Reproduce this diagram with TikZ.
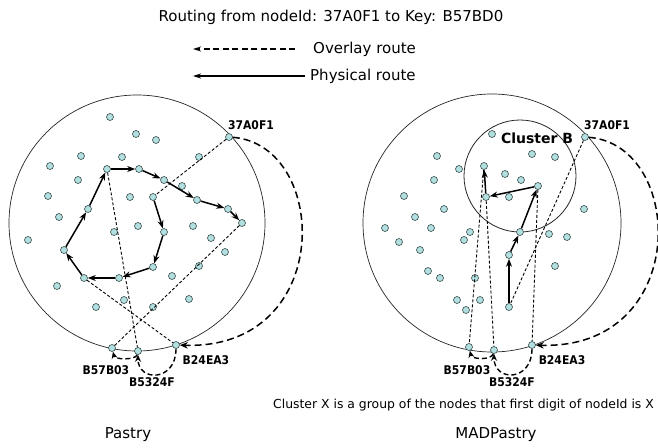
\documentclass[tikz,border=0pt]{standalone}
\usepackage{fontspec}
\setmainfont{DejaVu Sans}
\newfontfamily\lblfont[FakeStretch=0.9]{DejaVu Sans}
\usetikzlibrary{arrows.meta}
\definecolor{dotfill}{RGB}{178,224,224}
\definecolor{dotline}{RGB}{55,75,75}

\begin{document}
\begin{tikzpicture}[x=1pt,y=-1pt,
  dot/.style={circle,draw=dotline,fill=dotfill,line width=0.6pt,minimum size=7pt,inner sep=0pt},
  phys/.style={line width=1.5pt,-{Stealth[length=8pt,width=6pt]}},
  ovl/.style={line width=0.9pt,dash pattern=on 3pt off 2pt},
  hop/.style={line width=1.5pt,dash pattern=on 7pt off 4pt,-{Stealth[length=8pt,width=6.5pt]}},
  shop/.style={line width=1.4pt,dash pattern=on 5pt off 3pt,-{Stealth[length=7pt,width=6pt]}},
  ring/.style={draw=black!85,line width=0.7pt},
  lbl/.style={inner sep=0pt,font={\lblfont\bfseries\fontsize{12}{14}\selectfont}},
  txt/.style={inner sep=0pt,font={\fontsize{15}{18}\selectfont}},
  legline/.style={line width=1.3pt,-{Stealth[length=8pt,width=5pt]}}
]
\useasboundingbox (0,0) rectangle (658,447);

% ---------- title and legend ----------
\node[txt] (title) at (331,17) {Routing from nodeId: 37A0F1 to Key: B57BD0};
\node[txt,anchor=west] (ovtext) at (313,49) {Overlay route};
\node[txt,anchor=west] (phtext) at (310,76) {Physical route};
\coordinate (ovend) at (193,49);
\coordinate (phend) at (193,76);
\draw[legline,dash pattern=on 6pt off 3.5pt] ([xshift=-18pt]ovtext.west) -- (ovend);
\draw[legline] ([xshift=-5pt]phtext.west) -- (phend);

% ---------- Pastry ----------
\node[ring,circle,minimum size=256pt,inner sep=0pt] (ringL) at (137,223) {};
\foreach \p [count=\i] in {(110,117),(136,134),(156,140),(81,156),(122,157),(199,157),(50,166),
  (78,180),(48,196),(130,197),(59,217),(28,240),(114,232),(138,226),(193,226),(211,238),(225,252),
  (199,266),(172,276),(57,286),(96,307),(124,300),(153,307),(189,299),(182,186)}
  \node[dot] (pl\i) at \p {};

\node[dot] (srcL) at (229,137) {};
\node[dot] (la) at (153,197) {};
\node[dot] (lb) at (164,232) {};
\node[dot] (lc) at (153,267) {};
\node[dot] (ld) at (119,278) {};
\node[dot] (le) at (84,278) {};
\node[dot] (lf) at (64,250) {};
\node[dot] (lg) at (88,209) {};
\node[dot] (lh) at (107,169) {};
\node[dot] (li) at (139,169) {};
\node[dot] (lj) at (164,180) {};
\node[dot] (lk) at (197,200) {};
\node[dot] (ll) at (228,209) {};
\node[dot] (lm) at (242,223) {};
\node[dot] (b3L) at (112,348) {};
\node[dot] (b4L) at (138,351) {};
\node[dot] (b2L) at (176,345) {};

\draw[ovl] (srcL) -- (la);
\draw[ovl] (lm) -- (b3L);
\draw[ovl] (lh) -- (b4L);
\draw[ovl] (le) -- (b2L);

\foreach \a/\b in {la/lb,lb/lc,lc/ld,ld/le,le/lf,lf/lg,lg/lh,lh/li,li/lj,lj/lk,lk/ll,ll/lm}
  \draw[phys] (\a) -- (\b);

\draw[hop] (srcL) .. controls (330,145) and (335,350) .. (b2L);
\draw[shop] (b2L) .. controls (176,382) and (138,382) .. (b4L);
\draw[shop] (b4L) .. controls (136,360) and (115,360) .. (b3L);

\node[lbl] (tsrcL) at (251,125) {37A0F1};
\node[lbl] (tb3L) at (106,370) {B57B03};
\node[lbl] (tb4L) at (152,382) {B5324F};
\node[lbl] (tb2L) at (206,360) {B24EA3};

% ---------- MADPastry ----------
\node[ring,circle,minimum size=258pt,inner sep=0pt] (ringR) at (492,223) {};
\node[ring,circle,minimum size=112pt,inner sep=0pt,line width=0.8pt] (clusterB) at (520,176) {};
\foreach \p [count=\i] in {(492,134),(532,154),(555,157),(437,156),(459,169),(434,180),(505,174),
  (521,180),(509,197),(404,196),(444,209),(415,217),(385,228),(431,228),(470,232),(464,240),
  (399,242),(420,250),(584,209),(549,234),(567,237),(555,266),(428,271),(440,278),(475,278),
  (457,300),(480,300),(466,310)}
  \node[dot] (pr\i) at \p {};

\node[dot] (srcR) at (585,137) {};
\node[dot] (ra) at (509,307) {};
\node[dot] (rb) at (509,255) {};
\node[dot] (rc) at (520,232) {};
\node[dot] (rd) at (538,186) {};
\node[dot] (re) at (486,197) {};
\node[dot] (rf) at (484,166) {};
\node[dot] (b3R) at (469,347) {};
\node[dot] (b4R) at (494,350) {};
\node[dot] (b2R) at (532,345) {};

\draw[ovl] (srcR) -- (ra);
\draw[ovl] (rd) -- (b2R);
\draw[ovl] (re) -- (b4R);
\draw[ovl] (rf) -- (b3R);

\foreach \a/\b in {ra/rb,rb/rc,rc/rd,rd/re,re/rf}
  \draw[phys] (\a) -- (\b);

\draw[hop] (srcR) .. controls (686,145) and (691,350) .. (b2R);
\draw[shop] (b2R) .. controls (532,382) and (494,382) .. (b4R);
\draw[shop] (b4R) .. controls (492,360) and (472,360) .. (b3R);

\node[inner sep=0pt,font={\bfseries\fontsize{14}{16}\selectfont}] (tclB) at (537,138) {Cluster B};
\node[lbl] (tsrcR) at (607,125) {37A0F1};
\node[lbl] (tb3R) at (467,370) {B57B03};
\node[lbl] (tb4R) at (512,382) {B5324F};
\node[lbl] (tb2R) at (562,360) {B24EA3};

% ---------- captions ----------
\node[inner sep=0pt,font={\fontsize{12.4}{15}\selectfont},anchor=west] (note) at (273,405)
  {Cluster X is a group of the nodes that first digit of nodeId is X};
\node[txt] (capL) at (128,435) {Pastry};
\node[txt] (capR) at (496,435) {MADPastry};
\end{tikzpicture}
\end{document}
